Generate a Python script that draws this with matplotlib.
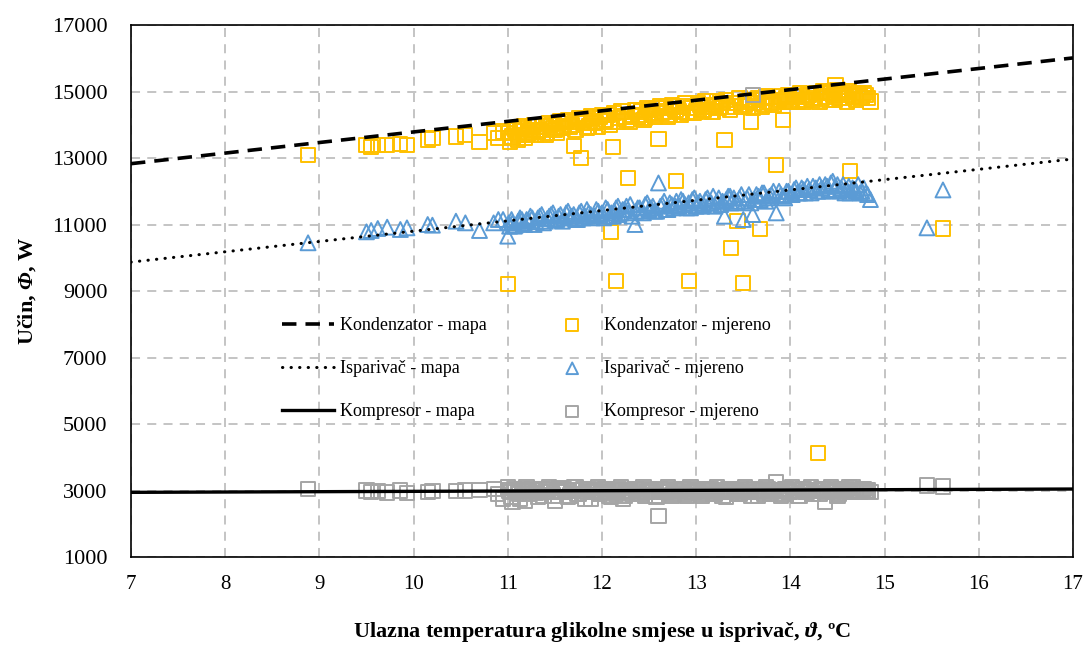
import matplotlib
matplotlib.use('Agg')
import numpy as np
import matplotlib.pyplot as plt

plt.rcParams['font.family'] = ['Liberation Serif', 'DejaVu Serif']
plt.rcParams['mathtext.fontset'] = 'custom'
plt.rcParams['mathtext.rm'] = 'Liberation Serif'
plt.rcParams['mathtext.bf'] = 'Liberation Serif:bold'
plt.rcParams['mathtext.bfit'] = 'Liberation Serif:bold:italic'
plt.rcParams['mathtext.it'] = 'Liberation Serif:italic'

# map lines (manufacturer data)
map_x = [7, 17]
kond_map = [12830, 16010]
ispar_map = [9870, 12970]
komp_map = [2945, 3045]

# measured points: inlet glycol temperature, degC
temp = [8.88, 9.50, 9.55, 9.62, 9.72, 9.86, 9.93, 10.15, 10.20, 10.45, 10.55, 10.70, 10.85, 10.90,
        10.95, 11.00, 11.02, 11.05, 11.08, 11.12, 11.15, 11.18, 11.22, 11.26, 11.30, 11.34, 11.38,
        11.42, 11.46, 11.50, 11.54, 11.58, 11.62, 11.66, 11.70, 11.74, 11.78, 11.82, 11.86, 11.90,
        11.94, 11.98, 12.02, 12.06, 12.10, 12.12, 12.15, 12.18, 12.22, 12.26, 12.28, 12.32, 12.35,
        12.38, 12.42, 12.46, 12.50, 12.54, 12.58, 12.60, 12.64, 12.68, 12.72, 12.76, 12.79, 12.82,
        12.86, 12.90, 12.92, 12.96, 13.00, 13.04, 13.08, 13.12, 13.16, 13.20, 13.24, 13.28, 13.30,
        13.34, 13.37, 13.40, 13.44, 13.48, 13.50, 13.54, 13.58, 13.60, 13.64, 13.68, 13.72, 13.76,
        13.80, 13.85, 13.88, 13.92, 13.96, 14.00, 14.04, 14.08, 14.12, 14.16, 14.20, 14.24, 14.29,
        14.33, 14.37, 14.41, 14.45, 14.48, 14.52, 14.56, 14.60, 14.63, 14.66, 14.70, 14.74, 14.78,
        14.82, 14.85, 15.45, 15.62]

kond_mj = [13100, 13380, 13320, 13400, 13380, 13420, 13380, 13560, 13600, 13650, 13700, 13480, 13750, 13600,
           13800, 9200, 13500, 13650, 13850, 13700, 13900, 13600, 13750, 13950, 13700, 13850, 13950,
           13750, 14000, 13850, 14050, 13900, 14100, 13950, 13350, 14100, 13000, 14150, 13950, 14200,
           14050, 14250, 14100, 14300, 10770, 13330, 9300, 14200, 14400, 14150, 12400, 14300, 14450,
           14250, 14400, 14200, 14450, 14300, 14500, 13570, 14350, 14500, 14300, 14550, 12310, 14400,
           14550, 14350, 9300, 14500, 14400, 14600, 14450, 14550, 14400, 14600, 14500, 14650, 13540,
           14550, 10290, 14650, 11100, 14550, 9240, 14700, 14100, 14500, 14750, 10860, 14600, 14800,
           14650, 12790, 14750, 14150, 14800, 14700, 14850, 14700, 14850, 14750, 14900, 14750, 4130,
           14800, 14950, 14750, 14900, 15200, 14800, 14950, 14700, 12610, 14900, 14750, 14850, 14950,
           14800, 14700, np.nan, 10880]

ispar_mj = [10450, 10780, 10820, 10880, 10920, 10850, 10900, 11000, 10980, 11100, 11050, 10820, 11050, 11150,
            11150, 10650, 10950, 11050, 10980, 11100, 11150, 11000, 11120, 11200, 11080, 11250, 11050,
            11180, 11300, 11150, 11250, 11100, 11350, 11200, 11300, 11150, 11400, 11250, 11350, 11200,
            11450, 11300, 11200, 11450, 11350, 11250, 11500, 11300, 11450, 11550, 11350, 11250, 11000,
            11500, 11400, 11600, 11450, 11550, 11400, 12250, 11600, 11450, 11650, 11500, 11700, 11550,
            11700, 11500, 11650, 11750, 11550, 11700, 11600, 11800, 11650, 11550, 11800, 11700, 11250,
            11850, 11650, 11800, 11700, 11900, 11150, 11800, 11650, 11300, 11900, 11750, 11950, 11800,
            11900, 11350, 12000, 11850, 12000, 11900, 12050, 11950, 12100, 11950, 12050, 12150, 12000,
            12100, 12200, 12050, 12300, 12150, 12000, 12200, 12050, 11950, 12100, 12000, 11950, 12100,
            11900, 11750, 10900, 12040]

komp_mj = [3050, 3000, 2950, 2980, 2940, 3000, 2920, 2950, 2980, 2980, 3000, 3020, 3050, 2900,
           2750, 3100, 2950, 2650, 3000, 2900, 3050, 2700, 2980, 3050, 2920, 3000, 2850,
           3050, 2950, 2700, 3080, 2950, 3000, 2850, 3100, 2900, 3000, 2750, 3050, 2950,
           3000, 2900, 3050, 2950, 2800, 3000, 2900, 3050, 2750, 2950, 3000, 2900, 3050,
           2950, 3000, 2850, 3050, 2950, 2800, 2230, 3000, 2950, 3050, 2900, 3000, 2950,
           3050, 2850, 3000, 2950, 3050, 2900, 3000, 2950, 3050, 2900, 3000, 2850, 2950,
           3050, 2950, 3000, 2900, 3050, 2950, 3000, 2850, 14900, 2950, 3000, 2900, 3050,
           2950, 3250, 3000, 2900, 3050, 2950, 3000, 2850, 3050, 2950, 3000, 2900, 3000,
           3050, 2650, 3000, 2950, 3050, 2900, 3000, 3050, 2950, 3100, 3000, 2950, 3050,
           3000, 2950, 3150, 3120]

# second measurement series in the dense range
temp2 = [11.01, 11.04, 11.07, 11.11, 11.13, 11.17, 11.20, 11.24, 11.28, 11.32,
         11.36, 11.40, 11.44, 11.48, 11.52, 11.56, 11.60, 11.64, 11.68, 11.72,
         11.76, 11.80, 11.84, 11.88, 11.92, 11.96, 12.00, 12.04, 12.08, 12.13,
         12.17, 12.20, 12.24, 12.30, 12.36, 12.40, 12.44, 12.48, 12.52, 12.56,
         12.62, 12.66, 12.70, 12.74, 12.78, 12.84, 12.88, 12.94, 12.98, 13.02,
         13.06, 13.10, 13.14, 13.18, 13.22, 13.26, 13.32, 13.36, 13.42, 13.46,
         13.52, 13.56, 13.62, 13.66, 13.70, 13.74, 13.78, 13.82, 13.90, 13.94,
         13.98, 14.02, 14.06, 14.10, 14.14, 14.18, 14.22, 14.27, 14.31, 14.35,
         14.39, 14.43, 14.47, 14.50, 14.54, 14.58, 14.62, 14.68, 14.72, 14.76,
         14.80]

kond_mj2 = [13750, 13600, 13900, 13550, 13800, 13950, 13700, 13850, 14000, 13800,
            13950, 13700, 14050, 13900, 13750, 14100, 13950, 14150, 14000, 13850,
            14200, 14050, 13900, 14250, 14100, 13950, 14300, 14150, 14000, 14350,
            14100, 14400, 14250, 14100, 14450, 14300, 14150, 14500, 14350, 14250,
            14550, 14400, 14250, 14600, 14450, 14300, 14650, 14500, 14350, 14650,
            14450, 14700, 14550, 14400, 14700, 14550, 14750, 14450, 14650, 14800,
            14600, 14750, 14650, 14800, 14550, 14850, 14700, 14600, 14850, 14700,
            14900, 14750, 14850, 14950, 14700, 14900, 14800, 14950, 14700, 15000,
            14850, 14950, 14750, 15050, 14900, 14800, 15000, 14850, 14950, 14800,
            14900]

ispar_mj2 = [11050, 11150, 10950, 11100, 11200, 11050, 11150, 11250, 11000, 11200,
             11300, 11100, 11250, 11350, 11150, 11300, 11200, 11400, 11250, 11150,
             11350, 11200, 11450, 11300, 11250, 11400, 11350, 11500, 11250, 11400,
             11550, 11350, 11450, 11600, 11400, 11500, 11350, 11650, 11500, 11400,
             11550, 11700, 11450, 11600, 11550, 11750, 11600, 11500, 11800, 11650,
             11550, 11750, 11650, 11850, 11700, 11600, 11750, 11850, 11650, 11800,
             11700, 11900, 11750, 11850, 11950, 11700, 11850, 12000, 11900, 11800,
             12000, 11900, 12100, 11950, 12050, 12150, 11950, 12100, 12200, 12000,
             12150, 12250, 12050, 12200, 12100, 11950, 12150, 12050, 12200, 12000,
             11950]

komp_mj2 = [3000, 2800, 3050, 2950, 2750, 3000, 3100, 2900, 3000, 2800,
            3050, 2950, 3100, 2850, 3000, 2950, 3050, 2800, 3000, 3100,
            2900, 3050, 2950, 2750, 3000, 3100, 2950, 3050, 2850, 3000,
            2950, 3100, 2850, 3000, 3050, 2900, 3100, 2950, 3000, 2850,
            3050, 2950, 3100, 2850, 3000, 3050, 2900, 3100, 2950, 3000,
            2850, 3050, 3000, 2900, 3100, 2950, 2800, 3050, 3000, 2900,
            3100, 2950, 3050, 2850, 3000, 3100, 2900, 3000, 2850, 3050,
            2950, 3100, 3000, 2850, 3050, 2950, 3100, 3000, 2900, 3050,
            2950, 3100, 3000, 2850, 3050, 2950, 3100, 3000, 2950, 3050,
            3000]

y_ticks = [1000, 3000, 5000, 7000, 9000, 11000, 13000, 15000, 17000]
x_ticks = [7, 8, 9, 10, 11, 12, 13, 14, 15, 16, 17]

c_kond = '#FFC000'
c_ispar = '#5B9BD5'
c_komp = '#A5A5A5'

fig = plt.figure(figsize=(10.85, 6.48), dpi=100)
ax = fig.add_axes([0.1207, 0.1404, 0.8682, 0.8210])

ax.plot(map_x, kond_map, color='black', lw=2.6, ls=(0, (4, 2.5)), label='Kondenzator - mapa', zorder=4)
ax.plot(map_x, ispar_map, color='black', lw=2.2, ls=(0, (0.1, 2.7)), dash_capstyle='round',
        label='Isparivač - mapa', zorder=4)
ax.plot(map_x, komp_map, color='black', lw=2.4, ls='-', label='Kompresor - mapa', zorder=4)

ax.scatter(temp + temp2, kond_mj + kond_mj2, marker='s', s=105, facecolors='none', edgecolors=c_kond,
           linewidths=1.4, label='Kondenzator - mjereno', zorder=3)
ax.scatter(temp + temp2, ispar_mj + ispar_mj2, marker='^', s=115, facecolors='none', edgecolors=c_ispar,
           linewidths=1.4, label='Isparivač - mjereno', zorder=3)
ax.scatter(temp + temp2, komp_mj + komp_mj2, marker='s', s=105, facecolors='none', edgecolors=c_komp,
           linewidths=1.4, label='Kompresor - mjereno', zorder=3)

ax.set_xlim(7, 17)
ax.set_ylim(1000, 17000)
ax.set_xticks(x_ticks)
ax.set_yticks(y_ticks)
ax.tick_params(length=0, labelsize=15)
ax.tick_params(axis='y', pad=17, labelsize=16)
ax.tick_params(axis='x', pad=13)
ax.grid(True, color='#BFBFBF', ls=(0, (5, 4)), lw=1.3)
ax.set_axisbelow(True)
for sp in ax.spines.values():
    sp.set_color('black')
    sp.set_linewidth(1.2)

ax.set_xlabel(r'Ulazna temperatura glikolne smjese u isprivač, $\mathbfit{\vartheta}$, ºC',
              fontsize=16, fontweight='bold', labelpad=19)
ax.set_ylabel(r'Učin, $\mathbfit{\Phi}$, W', fontsize=16, fontweight='bold', labelpad=10)

leg = ax.legend(ncol=2, frameon=False, loc='upper left', bbox_to_anchor=(0.143, 0.482), fontsize=13,
                handlelength=2.9, handletextpad=0.3, labelspacing=1.45, columnspacing=3.3,
                scatterpoints=1)
for h in leg.legend_handles[3:]:
    h.set_sizes([70])

fig.savefig('out.png', dpi=100)
